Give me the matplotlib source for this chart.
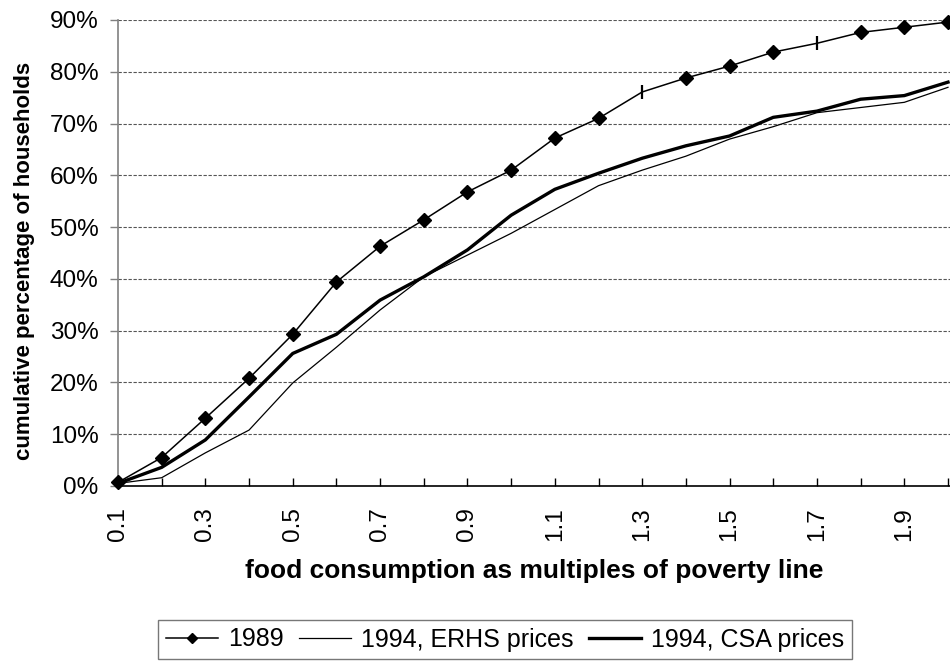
import numpy as np
import matplotlib.pyplot as plt
from matplotlib.ticker import FixedLocator, FuncFormatter

plt.rcParams['font.family'] = ['Liberation Sans', 'DejaVu Sans']

# multiples of the poverty line
multiples = [0.1, 0.2, 0.3, 0.4, 0.5, 0.6, 0.7, 0.8, 0.9, 1.0,
             1.1, 1.2, 1.3, 1.4, 1.5, 1.6, 1.7, 1.8, 1.9, 2.0]

# cumulative share of households (%)
y1989 = [0.7, 5.5, 13.1, 20.8, 29.3, 39.4, 46.3, 51.4, 56.8, 61.0,
         67.2, 71.0, 76.1, 78.8, 81.1, 83.8, 85.5, 87.6, 88.6, 89.6]
erhs_1994 = [0.5, 1.6, 6.4, 10.8, 19.9, 26.8, 34.0, 40.4, 44.6, 48.8,
             53.4, 58.0, 61.0, 63.7, 67.0, 69.4, 72.1, 73.1, 74.1, 77.0]
csa_1994 = [0.5, 3.6, 8.9, 17.2, 25.6, 29.3, 35.9, 40.4, 45.6, 52.3,
            57.3, 60.4, 63.3, 65.7, 67.6, 71.2, 72.4, 74.7, 75.4, 78.0]
# points of the 1989 line drawn with a tick instead of a diamond
tick_pts = [12, 16]

W, H = 950, 664
fig = plt.figure(figsize=(W / 100, H / 100), dpi=100)
ax = fig.add_axes([118 / W, 1 - 486 / H, (950 - 118) / W, (486 - 20) / H])

x = np.array(multiples)
y89 = np.array(y1989) / 100
diamond_pts = [i for i in range(len(x)) if i not in tick_pts]

ax.plot(x, y89, color='black', lw=1.1, marker='D', ms=7,
        markevery=diamond_pts, clip_on=False, zorder=5, label='1989')
ax.plot(x[tick_pts], y89[tick_pts], ls='none', marker='|', ms=10,
        mew=1.6, color='black', zorder=5)
ax.plot(x, np.array(erhs_1994) / 100, color='black', lw=0.9,
        label='1994, ERHS prices', zorder=4)
ax.plot(x, np.array(csa_1994) / 100, color='black', lw=2.4,
        label='1994, CSA prices', zorder=4)

ax.set_xlim(0.1, 2.0046)
ax.set_ylim(0, 0.9)

ax.set_yticks(np.arange(0, 0.91, 0.1))
ax.yaxis.set_major_formatter(FuncFormatter(lambda v, p: f"{v * 100:.0f}%"))
ax.xaxis.set_major_locator(FixedLocator(multiples))
ax.set_xticklabels([f"{v:.1f}" if i % 2 == 0 else "" for i, v in enumerate(multiples)],
                   rotation=90)

ax.tick_params(axis='x', direction='in', length=6, width=1, color='black',
               labelsize=17.5, pad=15)
ax.tick_params(axis='y', direction='out', length=6, width=1, color='#808080',
               labelsize=17.5, pad=8)

ax.grid(axis='y', color='#555555', ls=(0, (3, 1.5)), lw=0.8)
ax.set_axisbelow(True)

for s in ['top', 'right']:
    ax.spines[s].set_visible(False)
ax.spines['left'].set_color('#808080')
ax.spines['left'].set_linewidth(1.2)
ax.spines['bottom'].set_color('black')
ax.spines['bottom'].set_linewidth(1.2)

fig.text(534 / W, 1 - 571 / H, 'food consumption as multiples of poverty line',
         ha='center', va='center', fontsize=19, fontweight='bold')
fig.text(25 / W, 1 - 261 / H, 'cumulative percentage of households',
         ha='center', va='center', rotation=90, fontsize=16, fontweight='bold')

leg = fig.legend(loc='upper center', bbox_to_anchor=(505 / W, 1 - 620 / H),
                 ncol=3, fontsize=18, frameon=True, fancybox=False,
                 handlelength=2.1, handletextpad=0.4, columnspacing=0.6,
                 borderpad=0.3, borderaxespad=0, markerscale=0.75)
leg.get_frame().set_edgecolor('#555555')
leg.get_frame().set_linewidth(1.0)

fig.savefig('out.png', dpi=100)
